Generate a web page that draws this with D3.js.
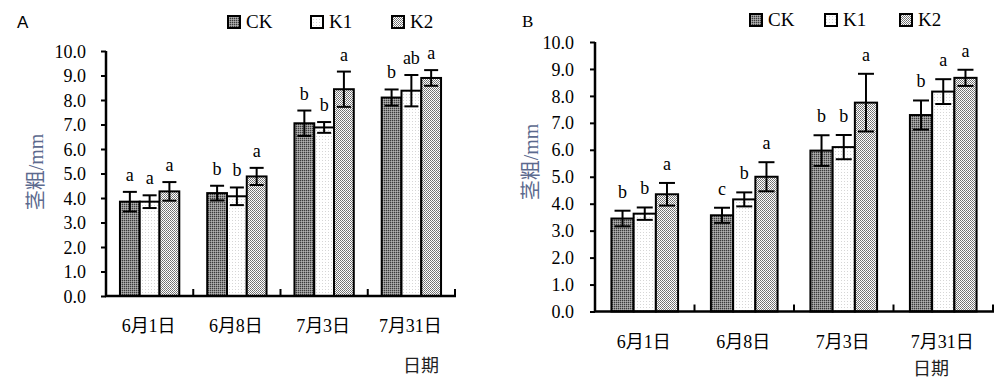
<!DOCTYPE html>
<html><head><meta charset="utf-8">
<script src="https://cdn.jsdelivr.net/npm/d3@7"></script>
<style>
html,body{margin:0;padding:0;background:#fff;}
svg{display:block;}
</style></head>
<body>
<svg id="chart" width="1000" height="384"></svg>
<script>
// ---------- data ----------
const categories = ["6月1日", "6月8日", "7月3日", "7月31日"];
const seriesNames = ["CK", "K1", "K2"];
const yTicks = [0, 1, 2, 3, 4, 5, 6, 7, 8, 9, 10];

// Panel A values (mean, error), per series across categories
const A_CK = [3.85, 4.20, 7.05, 8.10];
const A_K1 = [3.85, 4.07, 6.88, 8.38];
const A_K2 = [4.27, 4.88, 8.44, 8.90];
const A_CK_err = [0.40, 0.30, 0.52, 0.33];
const A_K1_err = [0.26, 0.36, 0.22, 0.64];
const A_K2_err = [0.38, 0.35, 0.72, 0.32];
const A_CK_sig = ["a", "b", "b", "b"];
const A_K1_sig = ["a", "b", "b", "ab"];
const A_K2_sig = ["a", "a", "a", "a"];

// Panel B values
const B_CK = [3.45, 3.57, 5.97, 7.29];
const B_K1 = [3.63, 4.16, 6.10, 8.16];
const B_K2 = [4.35, 5.00, 7.75, 8.67];
const B_CK_err = [0.29, 0.28, 0.57, 0.54];
const B_K1_err = [0.23, 0.26, 0.45, 0.46];
const B_K2_err = [0.42, 0.54, 1.07, 0.30];
const B_CK_sig = ["b", "c", "b", "b"];
const B_K1_sig = ["b", "b", "b", "a"];
const B_K2_sig = ["a", "a", "a", "a"];

const yTitle = "茎粗/mm";
const xTitle = "日期";

// ---------- drawing ----------
const SERIF = "'Liberation Serif', 'Times New Roman', 'Noto Sans CJK SC', serif";
const CJK = "'Noto Sans CJK SC', sans-serif";
const svg = d3.select("#chart");
const defs = svg.append("defs");

function pat(id, size, bg, cells) {
  const p = defs.append("pattern").attr("id", id).attr("patternUnits", "userSpaceOnUse")
    .attr("width", size).attr("height", size);
  p.append("rect").attr("width", size).attr("height", size).attr("fill", bg);
  cells.forEach(c => p.append("rect").attr("x", c[0]).attr("y", c[1]).attr("width", 1).attr("height", 1).attr("fill", c[2]));
}
pat("pCK", 2, "#8c8c8c", [[0,0,"#3a3a3a"],[1,1,"#b0b0b0"]]);
pat("pK1", 3, "#ffffff", [[1,1,"#d6d6d6"]]);
pat("pK2", 2, "#ffffff", [[0,0,"#6e6e6e"],[1,1,"#808080"]]);
const fills = {CK: "url(#pCK)", K1: "url(#pK1)", K2: "url(#pK2)"};

function txt(g, s, size, fam) {
  return g.append("text").style("font-family", fam || SERIF).style("font-size", size + "px").attr("fill", "#000").text(s);
}

function drawPanel(cfg) {
  const g = svg.append("g");
  const y = d3.scaleLinear().domain([0, 10]).range([cfg.yZero, cfg.yTop]);
  const x = d3.scaleBand().domain(categories).range([cfg.x0, cfg.x1]).padding(0);
  const bw = x.bandwidth();
  const xs = d3.scaleBand().domain(seriesNames).range([bw * cfg.gIn, bw * (1 - cfg.gIn)]).padding(0);

  const vals = {CK: cfg.CK, K1: cfg.K1, K2: cfg.K2};
  const errs = {CK: cfg.CKe, K1: cfg.K1e, K2: cfg.K2e};
  const sigs = {CK: cfg.CKs, K1: cfg.K1s, K2: cfg.K2s};

  seriesNames.forEach(s => {
    categories.forEach((c, i) => {
      const v = vals[s][i];
      const bx = x(c) + xs(s);
      g.append("rect").attr("x", bx).attr("y", y(v)).attr("width", xs.bandwidth())
        .attr("height", y(0) - y(v)).attr("fill", fills[s]).attr("stroke", "#000").attr("stroke-width", 2);
    });
  });
  seriesNames.forEach(s => {
    categories.forEach((c, i) => {
      const v = vals[s][i], e = errs[s][i];
      const cx = x(c) + xs(s) + xs.bandwidth() / 2;
      const hw = cfg.cap / 2;
      g.append("line").attr("x1", cx).attr("x2", cx).attr("y1", y(v + e)).attr("y2", y(v - e))
        .attr("stroke", "#000").attr("stroke-width", 2);
      [v + e, v - e].forEach(t => g.append("line").attr("x1", cx - hw).attr("x2", cx + hw)
        .attr("y1", y(t)).attr("y2", y(t)).attr("stroke", "#000").attr("stroke-width", 2));
      txt(g, sigs[s][i], 18).attr("x", cx).attr("y", y(v + e) - cfg.sigGap).attr("text-anchor", "middle");
    });
  });

  // y axis
  const ya = d3.axisLeft(y).tickValues(yTicks).tickSize(5).tickFormat(d3.format(".1f"));
  const yg = g.append("g").attr("transform", `translate(${cfg.x0},0)`).call(ya);
  yg.select(".domain").attr("d", `M0,${cfg.yTop}V${cfg.yZero}`).attr("stroke-width", 2.5);
  yg.selectAll(".tick line").attr("stroke-width", 2);
  yg.selectAll(".tick text").attr("x", cfg.yLab - cfg.x0).attr("dy", "0.34em")
    .style("font-size", "18px").style("font-family", SERIF).attr("fill", "#000");

  // x axis with inward ticks at category boundaries
  g.append("line").attr("x1", cfg.x0 - 1).attr("x2", cfg.x1 + 1).attr("y1", cfg.yZero).attr("y2", cfg.yZero)
    .attr("stroke", "#000").attr("stroke-width", 2.5);
  categories.forEach(c => {
    const bx = x(c) + bw;
    g.append("line").attr("x1", bx).attr("x2", bx).attr("y1", cfg.yZero).attr("y2", cfg.yZero - 7)
      .attr("stroke", "#000").attr("stroke-width", 2);
  });
  categories.forEach(c => {
    txt(g, c, 18).attr("x", x(c) + bw / 2 - 1).attr("y", cfg.catY).attr("text-anchor", "middle");
  });

  // titles
  txt(g, xTitle, 18, CJK).attr("x", cfg.xtX).attr("y", cfg.xtY).attr("text-anchor", "middle").attr("fill", "#222");
  txt(g, yTitle, 20).attr("transform", `translate(${cfg.ytX},${cfg.ytY}) rotate(-90)`).attr("text-anchor", "middle")
    .attr("fill", "#5c6a8e");
  txt(g, cfg.panel, cfg.pSize, cfg.pFont).attr("x", cfg.pX).attr("y", cfg.pY);

  // legend
  seriesNames.forEach((s, i) => {
    const lx = cfg.legX[i];
    g.append("rect").attr("x", lx).attr("y", cfg.legY).attr("width", 12).attr("height", 12)
      .attr("fill", fills[s]).attr("stroke", "#000").attr("stroke-width", 2);
    txt(g, s, 19).attr("x", lx + 18).attr("y", cfg.legY + 12);
  });
}

drawPanel({
  panel: "A", pX: 17, pY: 28, pSize: 17, pFont: "'Liberation Sans', Arial, sans-serif",
  x0: 106, x1: 455, yTop: 51, yZero: 296, gIn: 0.16, cap: 14, sigGap: 11,
  yLab: 86, catY: 332, xtX: 421, xtY: 372, ytX: 43, ytY: 172,
  legX: [228, 311, 392], legY: 16,
  CK: A_CK, K1: A_K1, K2: A_K2, CKe: A_CK_err, K1e: A_K1_err, K2e: A_K2_err,
  CKs: A_CK_sig, K1s: A_K1_sig, K2s: A_K2_sig
});
drawPanel({
  panel: "B", pX: 522, pY: 27, pSize: 17, pFont: SERIF,
  x0: 595, x1: 993, yTop: 42, yZero: 311.5, gIn: 0.165, cap: 16, sigGap: 13,
  yLab: 574, catY: 348, xtX: 931, xtY: 375, ytX: 538, ytY: 162,
  legX: [750, 825, 900], legY: 14,
  CK: B_CK, K1: B_K1, K2: B_K2, CKe: B_CK_err, K1e: B_K1_err, K2e: B_K2_err,
  CKs: B_CK_sig, K1s: B_K1_sig, K2s: B_K2_sig
});
</script>
</body></html>
